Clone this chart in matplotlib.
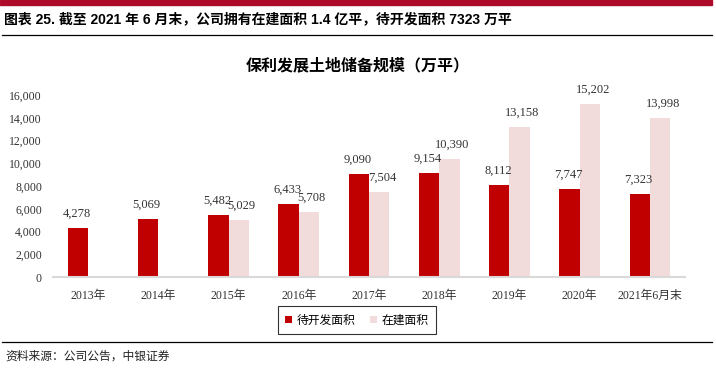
import numpy as np
import matplotlib
matplotlib.use("Agg")
import matplotlib.pyplot as plt
from matplotlib.patches import Rectangle
from matplotlib.lines import Line2D

# data
years = ["2013年", "2014年", "2015年", "2016年", "2017年", "2018年", "2019年", "2020年", "2021年6月末"]
pending = [4278, 5069, 5482, 6433, 9090, 9154, 8112, 7747, 7323]
building = [np.nan, np.nan, 5029, 5708, 7504, 10390, 13158, 15202, 13998]
series_names = ["待开发面积", "在建面积"]
yticks = [0, 2000, 4000, 6000, 8000, 10000, 12000, 14000, 16000]

RED = "#C00000"
PINK = "#F2DCDB"
SERIF = ["Liberation Serif", "Noto Sans CJK SC"]
CJK = ["Noto Sans CJK SC", "DejaVu Sans"]

fig = plt.figure(figsize=(7.16, 3.77), dpi=100)

# top band and header
fig.patches.append(Rectangle((0, 1 - 5 / 377), 712 / 716, 5 / 377, transform=fig.transFigure,
                             color="#AE0A2A", zorder=0))
fig.text(4 / 716, 1 - 19 / 377, "图表 25. 截至 2021 年 6 月末，公司拥有在建面积 1.4 亿平，待开发面积 7323 万平",
         family=["Liberation Sans", "Noto Sans CJK SC"], fontweight="bold", fontsize=10, va="center")
fig.add_artist(Line2D([2 / 716, 712 / 716], [1 - 35 / 377] * 2, color="black", lw=0.9))
fig.add_artist(Line2D([2 / 716, 712 / 716], [1 - 342 / 377] * 2, color="black", lw=0.9))
fig.text(5 / 716, 1 - 356 / 377, "资料来源：公司公告，中银证券", family=CJK, fontsize=8.5, va="center",
         color="#222222")

fig.text(358 / 716, 1 - 65 / 377, "保利发展土地储备规模（万平）", family=CJK, fontsize=11.5,
         fontweight="bold", ha="center", va="center")

ax = fig.add_axes([53 / 716, 1 - 277 / 377, 632 / 716, 182 / 377])
x = np.arange(len(years))
w = 0.29
b1 = ax.bar(x - w / 2, pending, w, color=RED, label=series_names[0])
b2 = ax.bar(x + w / 2, building, w, color=PINK, label=series_names[1])

for rects, vals, dx in ((b1, pending, -1), (b2, building, 2)):
    for r, v in zip(rects, vals):
        if np.isnan(v):
            continue
        ax.annotate(f"{int(v):,}", (r.get_x() + r.get_width() / 2, v), xytext=(dx, 6),
                    textcoords="offset points", ha="center", va="bottom",
                    family=SERIF, fontsize=9, color="#333333")

ax.set_xlim(-0.5, len(years) - 0.5)
ax.set_ylim(0, 16000)
ax.set_yticks(yticks)
ax.set_yticklabels([f"{t:,}" for t in yticks], family=SERIF, fontsize=8.5, color="#333333")
ax.set_xticks(x)
ax.set_xticklabels(years, family=SERIF, fontsize=8.5, color="#333333")
ax.tick_params(length=0, pad=8)
ax.tick_params(axis="x", pad=9)
for s in ["top", "right", "left"]:
    ax.spines[s].set_visible(False)
ax.spines["bottom"].set_color("#D9D9D9")
ax.spines["bottom"].set_linewidth(1.5)

leg = fig.legend(loc="center", bbox_to_anchor=(357 / 716, 1 - 320 / 377), ncol=2,
                 prop={"family": CJK, "size": 8.5}, frameon=True, fancybox=False,
                 edgecolor="black", handlelength=0.6, handleheight=0.6, handletextpad=0.4,
                 columnspacing=1.2, borderpad=0.6)
leg.get_frame().set_linewidth(0.8)

fig.savefig("out.png", dpi=100)
